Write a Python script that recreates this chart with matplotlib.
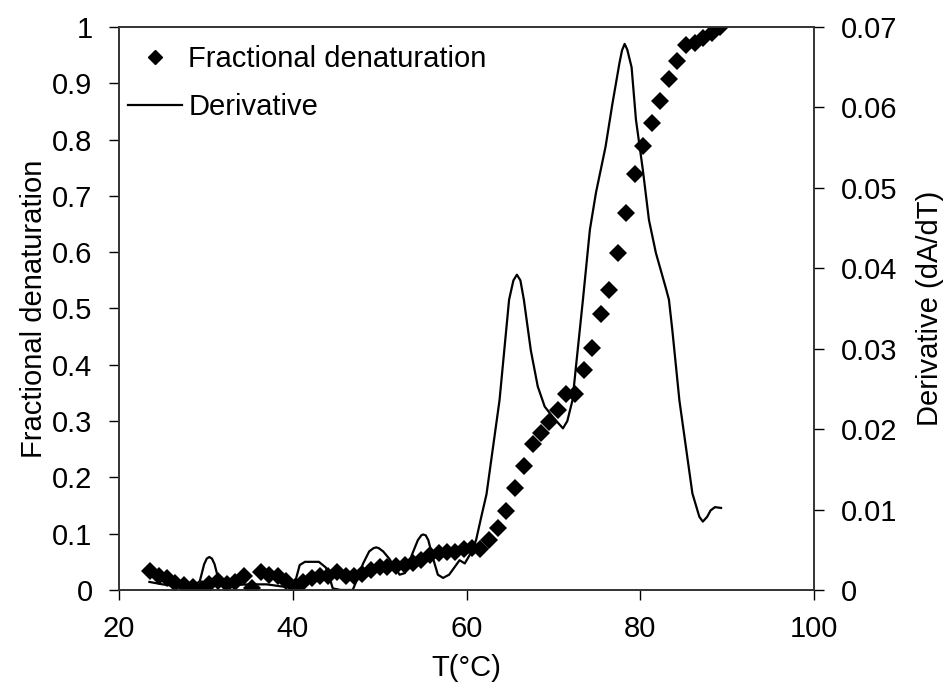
import matplotlib.pyplot as plt
from matplotlib.lines import Line2D

plt.rcParams['font.family'] = ['Liberation Sans', 'DejaVu Sans']

# fractional denaturation (diamonds, left axis)
temp = [23.6, 24.6, 25.5, 26.5, 27.5, 28.5, 29.5, 30.4, 31.4, 32.4,
        33.4, 34.4, 35.3, 36.3, 37.3, 38.3, 39.2, 40.2, 41.2, 42.2,
        43.1, 44.1, 45.1, 46.1, 47.0, 48.0, 49.0, 50.0, 50.9, 51.9,
        52.9, 53.8, 54.8, 55.8, 56.8, 57.7, 58.7, 59.7, 60.6, 61.6,
        62.6, 63.6, 64.6, 65.6, 66.6, 67.6, 68.6, 69.5, 70.5, 71.5,
        72.5, 73.5, 74.5, 75.5, 76.4, 77.4, 78.4, 79.4, 80.3, 81.3,
        82.3, 83.3, 84.2, 85.3, 86.3, 87.2, 88.2, 89.2]
frac = [0.033, 0.025, 0.022, 0.012, 0.008, 0.005, 0.002, 0.010, 0.016, 0.010,
        0.014, 0.024, 0.004, 0.032, 0.026, 0.024, 0.016, 0.006, 0.015, 0.021,
        0.024, 0.025, 0.032, 0.024, 0.025, 0.028, 0.036, 0.040, 0.041, 0.042,
        0.045, 0.048, 0.054, 0.062, 0.066, 0.068, 0.068, 0.072, 0.075, 0.072,
        0.088, 0.110, 0.141, 0.181, 0.220, 0.259, 0.279, 0.299, 0.320, 0.348,
        0.348, 0.391, 0.430, 0.490, 0.532, 0.599, 0.669, 0.739, 0.789, 0.829,
        0.869, 0.907, 0.940, 0.968, 0.972, 0.980, 0.989, 1.000]

# derivative (line, right axis)
t_der = [23.5, 25.0, 27.0, 28.5, 29.3, 29.8, 30.1, 30.4, 30.7, 31.0, 31.5, 32.0,
         33.0, 35.0, 37.0, 39.0, 40.2, 40.8, 41.4, 43.0, 43.8, 44.2,
         44.6, 45.5, 46.9, 47.6, 48.1, 48.8, 49.3, 49.6, 49.9, 50.4, 51.1, 51.7,
         52.3, 52.9, 53.8, 54.4, 54.8, 55.0, 55.3, 55.6, 56.1, 56.7, 57.3, 58.0,
         59.2, 59.8, 60.5, 61.1, 61.7, 62.3, 63.8, 64.9, 65.4, 65.8, 66.2, 66.6,
         67.4, 68.2, 69.0, 69.8, 70.6, 71.1, 71.6, 72.2, 72.6, 73.4,
         74.2, 74.9, 76.0, 76.8, 77.6, 77.9, 78.2, 78.5, 79.0, 79.5, 80.3, 81.0,
         81.8, 82.9, 83.3, 83.7, 84.5, 85.3, 86.0, 86.8, 87.2, 87.7,
         88.1, 88.6, 89.3]
deriv = [0.0010, 0.0007, 0.0004, 0.0004, 0.0011, 0.0032, 0.0039, 0.0041, 0.0039, 0.0032, 0.0011, 0.0004,
         0.0006, 0.0007, 0.0007, 0.0004, 0.0007, 0.0031, 0.0035, 0.0035, 0.0028, 0.0017,
         0.0002, 0.0000, 0.0000, 0.0018, 0.0033, 0.0048, 0.0052, 0.0053, 0.0052, 0.0048, 0.0039, 0.0029,
         0.0019, 0.0021, 0.0046, 0.0062, 0.0068, 0.0069, 0.0068, 0.0062, 0.0041, 0.0019, 0.0015, 0.0019,
         0.0037, 0.0033, 0.0046, 0.0062, 0.0091, 0.0119, 0.0236, 0.0361, 0.0385, 0.0392, 0.0385, 0.0361,
         0.0298, 0.0253, 0.0228, 0.0217, 0.0207, 0.0201, 0.0210, 0.0236, 0.0278, 0.0361,
         0.0448, 0.0494, 0.0551, 0.0605, 0.0655, 0.0671, 0.0679, 0.0672, 0.0650, 0.0585, 0.0522, 0.0460,
         0.0419, 0.0377, 0.0361, 0.0322, 0.0236, 0.0174, 0.0120, 0.0091, 0.0085, 0.0091,
         0.0099, 0.0103, 0.0102]

fig = plt.figure(figsize=(9.46, 6.91), dpi=100)
ax = fig.add_axes([0.1258, 0.1462, 0.7347, 0.8147])
ax2 = ax.twinx()

ax.plot(temp, frac, 'D', color='black', markersize=9, markeredgewidth=0, zorder=3)
ax2.plot(t_der, deriv, '-', color='black', linewidth=1.6)

ax.set_xlim(20, 100)
ax.set_ylim(0, 1)
ax2.set_ylim(0, 0.07)
ax.set_xticks([20, 40, 60, 80, 100])
ax.set_yticks([0, 0.1, 0.2, 0.3, 0.4, 0.5, 0.6, 0.7, 0.8, 0.9, 1])
ax.set_yticklabels(['0', '0.1', '0.2', '0.3', '0.4', '0.5', '0.6', '0.7', '0.8', '0.9', '1'])
ax2.set_yticks([0, 0.01, 0.02, 0.03, 0.04, 0.05, 0.06, 0.07])
ax2.set_yticklabels(['0', '0.01', '0.02', '0.03', '0.04', '0.05', '0.06', '0.07'])

fs = 21
for a in (ax, ax2):
    a.tick_params(direction='out', length=7, width=1, labelsize=fs, colors='black')
    for s in a.spines.values():
        s.set_color('#333333')
        s.set_linewidth(1.2)
ax.tick_params(axis='x', pad=11)
ax.tick_params(axis='y', pad=12)
ax2.tick_params(axis='y', pad=12)

ax.set_xlabel('T(°C)', fontsize=fs, labelpad=8)
ax.set_ylabel('Fractional denaturation', fontsize=fs, labelpad=3)
ax2.set_ylabel('Derivative (dA/dT)', fontsize=fs, labelpad=14)

handles = [Line2D([], [], marker='D', linestyle='none', color='black', markersize=7),
           Line2D([], [], color='black', linewidth=1.6)]
ax2.legend(handles, ['Fractional denaturation', 'Derivative'], loc='upper left',
           bbox_to_anchor=(0.013, 0.968), frameon=False, fontsize=fs,
           handlelength=1.86, handletextpad=0.2, borderaxespad=0,
           labelspacing=0.7, borderpad=0)

fig.savefig('out.png', dpi=100)
